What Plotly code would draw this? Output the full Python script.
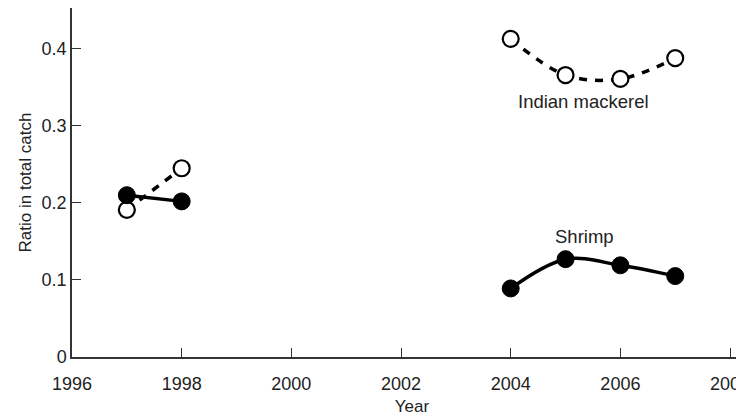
import plotly.graph_objects as go

years = [1997, 1998, 1999, 2000, 2001, 2002, 2003, 2004, 2005, 2006, 2007]
shrimp = [0.210, 0.202, None, None, None, None, None, 0.089, 0.127, 0.119, 0.105]
mackerel = [0.191, 0.245, None, None, None, None, None, 0.413, 0.366, 0.361, 0.388]
x_ticks = [1996, 1998, 2000, 2002, 2004, 2006, 2008]
y_ticks = [0, 0.1, 0.2, 0.3, 0.4]
y_labels = ["0", "0.1", "0.2", "0.3", "0.4"]

fig = go.Figure()
fig.add_trace(go.Scatter(
    x=years, y=mackerel, mode="lines+markers", connectgaps=False,
    line=dict(color="black", width=3.5, dash="8px,8px", shape="spline"),
    marker=dict(symbol="circle", size=16, color="white", line=dict(color="black", width=2.2)),
    name="Indian mackerel"))
fig.add_trace(go.Scatter(
    x=years, y=shrimp, mode="lines+markers", connectgaps=False,
    line=dict(color="black", width=3.5, shape="spline"),
    marker=dict(symbol="circle", size=17, color="black", line=dict(color="black", width=1)),
    name="Shrimp"))

fig.add_annotation(x=2005.33, y=0.331, text="Indian mackerel", showarrow=False,
                   font=dict(size=18.5, color="#222"))
fig.add_annotation(x=2005.35, y=0.156, text="Shrimp", showarrow=False,
                   font=dict(size=18.5, color="#222"))

fig.update_layout(
    width=744, height=419,
    margin=dict(l=64, r=0, t=0, b=70),
    plot_bgcolor="white", paper_bgcolor="white",
    showlegend=False,
    font=dict(family="Liberation Sans, Arial, sans-serif", size=18, color="#222"),
    xaxis=dict(range=[1996, 2008.4], tickvals=x_ticks, ticks="inside", ticklen=9,
               tickcolor="#333", tickwidth=1.3, showline=True, linecolor="#333", linewidth=1.5,
               showgrid=False, zeroline=False, automargin=False,
               tickfont=dict(size=18), ticklabelstandoff=10,
               title=dict(text="Year", standoff=7, font=dict(size=17))),
    yaxis=dict(range=[0, 0.453], tickvals=y_ticks, ticktext=y_labels, ticks="inside", ticklen=9,
               tickcolor="#333", tickwidth=1.3, showline=True, linecolor="#333", linewidth=1.5,
               showgrid=False, zeroline=False, automargin=False,
               tickfont=dict(size=18),
               title=dict(text="Ratio in total catch", standoff=6, font=dict(size=17))),
)
fig.write_html("out.html")
